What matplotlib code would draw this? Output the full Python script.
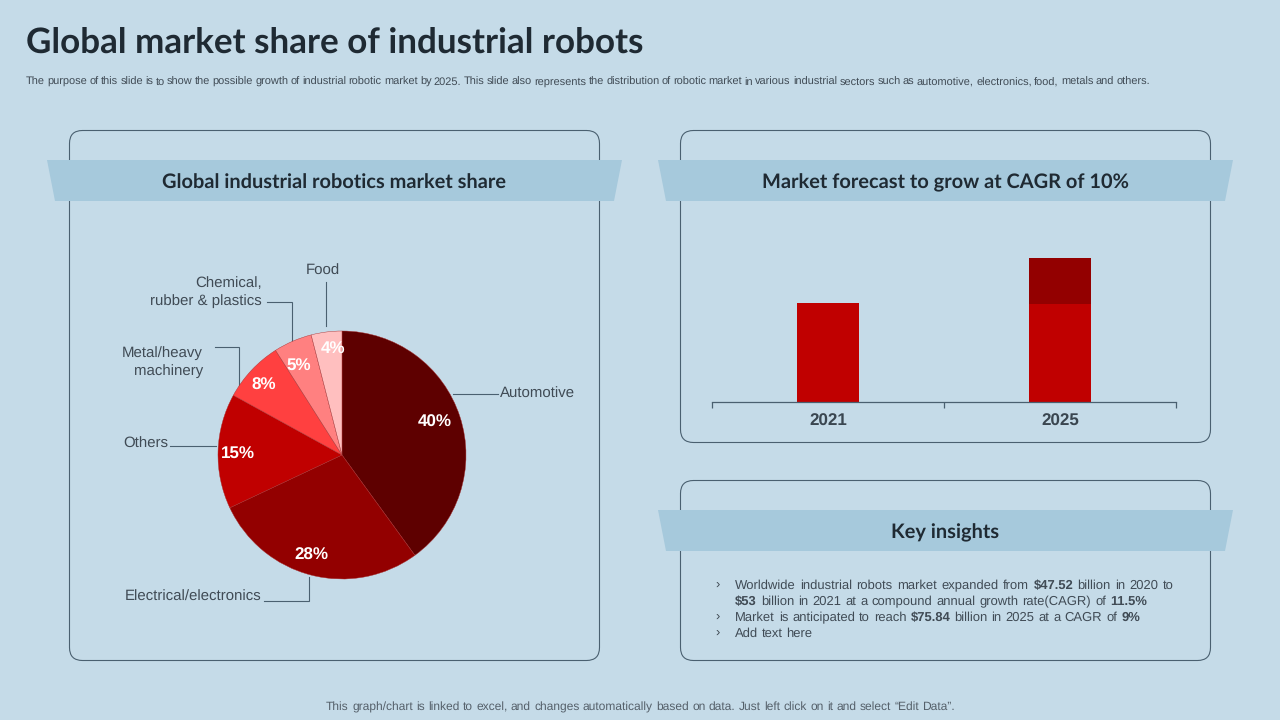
import matplotlib
matplotlib.use("Agg")
import numpy as np
import matplotlib.pyplot as plt
from matplotlib.patches import FancyBboxPatch, Polygon

plt.rcParams["text.hinting"] = "none"
plt.rcParams["text.hinting_factor"] = 1

BG = "#C5DBE8"; BAND = "#A6C9DC"; EDGE = "#4A6070"; INK = "#1F2A33"; TXT = "#404B55"
SANS = "Liberation Sans"; HEAD = "Lato"

title = "Global market share of industrial robots"
subtitle = ("The purpose of this slide is to show the possible growth of industrial robotic market by 2025. "
            "This slide also represents the distribution of robotic market in  various industrial sectors "
            "such as automotive, electronics, food, metals and others.")
footer = "This graph/chart is linked to excel,  and changes automatically based on data. Just left click on it and select \u201cEdit Data\u201d."

pie_categories = ["Automotive", "Electrical/electronics", "Others", "Metal/heavy\nmachinery",
                  "Chemical,\nrubber & plastics", "Food"]
pie_values = [40, 28, 15, 8, 5, 4]
pie_colors = ["#5E0000", "#930000", "#C00000", "#FF4040", "#FF8080", "#FFBFBF"]

bar_years = ["2021", "2025"]
bar_base = [53, 52]
bar_growth = [0, 24.5]

fig = plt.figure(figsize=(12.8, 7.2), dpi=100, facecolor=BG)
ov = fig.add_axes([0, 0, 1, 1]); ov.set_xlim(0, 1280); ov.set_ylim(720, 0); ov.axis("off")
rend = fig.canvas.get_renderer()

def width(s, bold, fs):
    t = ov.text(0, 0, s, family=SANS, fontsize=fs, weight="bold" if bold else "normal")
    w = t.get_window_extent(rend).width; t.remove(); return w

def line(runs, y, x0=735, x1=None, fs=9.15, color=TXT):
    words = [(w, b) for s, b in runs for w in s.split()]
    widths = [width(w, b, fs) for w, b in words]
    gap = width("a a", False, fs) - 2 * width("a", False, fs)
    if x1 is not None:
        gap = (x1 - x0 - sum(widths)) / (len(words) - 1)
    px = x0
    for (w, b), wd in zip(words, widths):
        ov.text(px, y, w, family=SANS, fontsize=fs, weight="bold" if b else "normal",
                color=color, ha="left", va="baseline")
        px += wd + gap

def box(x0, y0, x1, y1):
    ov.add_patch(FancyBboxPatch((x0, y0), x1 - x0, y1 - y0, boxstyle="round,pad=0,rounding_size=13",
                                fc="none", ec=EDGE, lw=0.8, zorder=1))
def band(x0, x1, y0, y1, label):
    ov.add_patch(Polygon([(x0, y0), (x1, y0), (x1 - 8, y1), (x0 + 8, y1)], fc=BAND, ec="none", zorder=2))
    ov.text((x0 + x1) / 2, (y0 + y1) / 2 + 2.5, label, ha="center", va="center", family=HEAD, weight="bold",
            fontsize=14.7, color=INK, zorder=3)

ov.text(26, 43, title, family=HEAD, weight="bold", fontsize=25.2, color=INK, ha="left", va="center")
line([(subtitle, False)], 85.2, x0=26, x1=1150, fs=7.65)
line([(footer, False)], 710.2, x0=326, x1=955, fs=8.5, color="#55606A")

box(69.5, 130.5, 599.5, 660.5)
box(680.5, 130.5, 1210.5, 442.5)
box(680.5, 480.5, 1210.5, 660.5)
band(47, 622, 160, 201, "Global industrial robotics market share")
band(658, 1233, 160, 201, "Market forecast to grow at CAGR of 10%")
band(658, 1233, 510, 551, "Key insights")

# Pie chart
cx, cy, R = 342, 455, 124
pa = fig.add_axes([(cx - R) / 1280, 1 - (cy + R) / 720, 2 * R / 1280, 2 * R / 720])
wedges, _ = pa.pie(pie_values, colors=pie_colors, startangle=90, counterclock=False, radius=1,
                   wedgeprops=dict(ec="#A83030", lw=0.3))
pa.set_xlim(-1, 1); pa.set_ylim(-1, 1)
for w in wedges:
    w.set_clip_on(False)
# label anchor per wedge, in fractions of the pie radius
label_xy = [(0.750, 0.260), (-0.250, -0.806), (-0.843, 0.008), (-0.633, 0.565), (-0.347, 0.718), (-0.073, 0.863)]
for v, (lx, ly) in zip(pie_values, label_xy):
    pa.text(lx, ly, f"{v}%", ha="center", va="center", family=SANS,
            weight="bold", fontsize=12, color="white", zorder=5)

# Leader lines and category labels
leaders = [
    ([453, 498], [394, 394]),
    ([264, 309, 309], [601, 601, 577]),
    ([170, 216], [446, 446]),
    ([215, 239, 239], [347, 347, 386]),
    ([267, 291.5, 291.5], [302, 302, 341]),
    ([326, 326], [282, 326]),
]
for lx, ly in leaders:
    ov.plot(lx, ly, color=EDGE, lw=0.8, zorder=1, solid_joinstyle="miter")
label_pos = [(500, 394, "left"), (261, 597, "right"), (168, 444, "right"), (203, 362, "right"),
             (262, 292, "right"), (322.5, 271, "center")]
for name, (x, y, ha) in zip(pie_categories, label_pos):
    ov.text(x, y, name, ha=ha, va="center", family=SANS, fontsize=10.6, color=TXT,
            linespacing=1.3, multialignment="right")

# Bar chart
scale = 99.5 / bar_base[0]
ba = fig.add_axes([712 / 1280, 1 - 402 / 720, 464 / 1280, 170 / 720], facecolor="none")
x = np.arange(len(bar_years))
ba.bar(x, bar_base, width=0.27, color="#C00000")
ba.bar(x, bar_growth, bottom=bar_base, width=0.27, color="#930000")
ba.set_xlim(-0.5, 1.5); ba.set_ylim(0, 170 / scale)
for s in ("top", "left", "right"):
    ba.spines[s].set_visible(False)
ba.spines["bottom"].set_color(EDGE); ba.spines["bottom"].set_linewidth(0.9)
ba.set_yticks([])
ba.set_xticks([-0.5, 0.5, 1.5]); ba.set_xticklabels([])
ba.tick_params(axis="x", which="major", length=4, width=0.9, color=EDGE, direction="out")
ba.set_xticks(x, minor=True); ba.set_xticklabels(bar_years, minor=True)
ba.tick_params(axis="x", which="minor", length=0, pad=8.5, labelsize=12, labelcolor="#3A4650")
for t in ba.get_xticklabels(minor=True):
    t.set_family(SANS); t.set_weight("bold")

# Key insights text with inline bold runs
for y in (589, 621, 637):
    ov.text(718, y, "\u203A", family=SANS, fontsize=9.15, color=TXT, ha="center", va="baseline")
line([("Worldwide industrial robots market expanded from", False), ("$47.52", True), ("billion in 2020 to", False)], 589, x1=1174)
line([("$53", True), ("billion in 2021 at a compound annual growth rate(CAGR) of", False), ("11.5%", True)], 605, x1=1147)
line([("Market is anticipated to reach", False), ("$75.84", True), ("billion in 2025 at a CAGR of", False), ("9%", True)], 621, x1=1140)
line([("Add text here", False)], 637)

fig.savefig("out.png", dpi=100, facecolor=BG)
